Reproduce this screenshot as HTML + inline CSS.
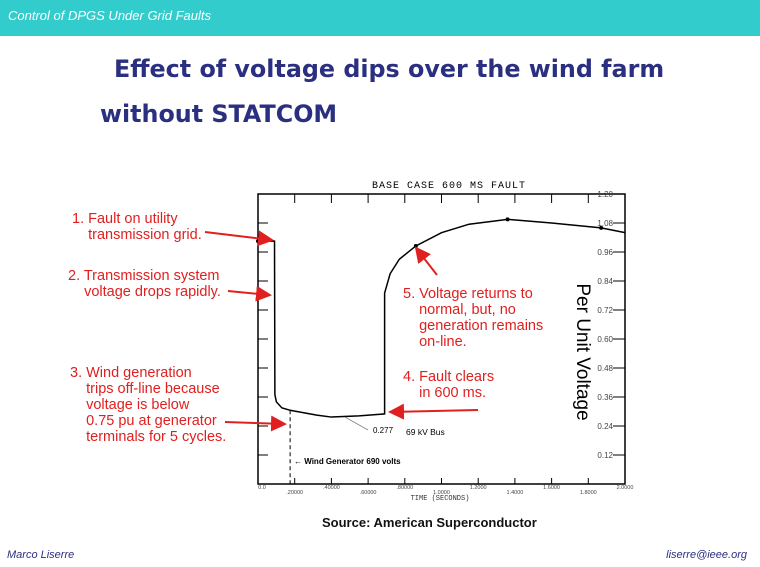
<!DOCTYPE html>
<html><head><meta charset="utf-8"><style>
body{margin:0;width:760px;height:567px;background:#fff;overflow:hidden;position:relative;font-family:"Liberation Sans",sans-serif}
.hdr{position:absolute;left:0;top:0;width:760px;height:36px;background:#33cccc}
.hdr span{position:absolute;left:8px;top:8px;color:#fff;font-style:italic;font-size:13px}
.t{position:absolute;color:#2b2f80;font-family:"DejaVu Sans",sans-serif;font-weight:bold;font-size:23.8px;white-space:nowrap}
.red{position:absolute;color:#e02020;font-size:14.5px;line-height:16px;white-space:nowrap}
</style></head><body>
<div class="hdr"><span>Control of DPGS Under Grid Faults</span></div>
<div class="t" style="left:114px;top:55px">Effect of voltage dips over the wind farm</div>
<div class="t" style="left:100px;top:100px">without STATCOM</div>
<svg id="ch" width="760" height="567" style="position:absolute;left:0;top:0"></svg>
<div class="red" style="left:72px;top:211px">1. Fault on utility<br>&nbsp;&nbsp;&nbsp;&nbsp;transmission grid.</div>
<div class="red" style="left:68px;top:268px">2. Transmission system<br>&nbsp;&nbsp;&nbsp;&nbsp;voltage drops rapidly.</div>
<div class="red" style="left:70px;top:365px">3. Wind generation<br>&nbsp;&nbsp;&nbsp;&nbsp;trips off-line because<br>&nbsp;&nbsp;&nbsp;&nbsp;voltage is below<br>&nbsp;&nbsp;&nbsp;&nbsp;0.75 pu at generator<br>&nbsp;&nbsp;&nbsp;&nbsp;terminals for 5 cycles.</div>
<div class="red" style="left:403px;top:286px">5. Voltage returns to<br>&nbsp;&nbsp;&nbsp;&nbsp;normal, but, no<br>&nbsp;&nbsp;&nbsp;&nbsp;generation remains<br>&nbsp;&nbsp;&nbsp;&nbsp;on-line.</div>
<div class="red" style="left:403px;top:369px">4. Fault clears<br>&nbsp;&nbsp;&nbsp;&nbsp;in 600 ms.</div>
<div style="position:absolute;left:322px;top:515px;font-size:13px;font-weight:bold;color:#111">Source: American Superconductor</div>
<div style="position:absolute;left:7px;top:549px;font-size:11px;font-style:italic;color:#2b2f80">Marco Liserre</div>
<div style="position:absolute;right:13px;top:549px;font-size:11px;font-style:italic;color:#2b2f80">liserre@ieee.org</div>
<script>
const times=[0,0.09,0.092,0.1,0.13,0.175,0.32,0.4,0.55,0.69,0.69,0.72,0.77,0.86,1.0,1.15,1.36,1.6,1.87,2.0];
const volts=[1.005,1.005,0.37,0.34,0.315,0.305,0.285,0.277,0.282,0.29,0.79,0.87,0.93,0.985,1.04,1.075,1.095,1.08,1.06,1.04];
const yTicks=[0.12,0.24,0.36,0.48,0.60,0.72,0.84,0.96,1.08,1.20];
const xTicks=[0,0.2,0.4,0.6,0.8,1.0,1.2,1.4,1.6,1.8,2.0];
const xLabels=["0.0",".20000",".40000",".60000",".80000","1.0000","1.2000","1.4000","1.6000","1.8000","2.0000"];
const L=258,R=625,T=194,B=484;
const X=t=>L+(R-L)*t/2, Y=v=>B-(B-T)*v/1.2;
const s=document.getElementById('ch'),NS='http://www.w3.org/2000/svg';
function el(tag,a,txt){const e=document.createElementNS(NS,tag);for(const k in a)e.setAttribute(k,a[k]);if(txt)e.textContent=txt;s.appendChild(e);return e;}
let f=el('rect',{x:L,y:T,width:R-L,height:B-T,fill:'none',stroke:'#000','stroke-width':1.5});


let ti=el('text',{x:449,y:188,'font-size':10,'text-anchor':'middle','font-family':'Liberation Mono,monospace','letter-spacing':1},'BASE CASE 600 MS FAULT');


yTicks.forEach(v=>{
 el('line',{x1:R-12,x2:R,y1:Y(v),y2:Y(v),stroke:'#000'});
 el('line',{x1:L,x2:L+10,y1:Y(v),y2:Y(v),stroke:'#000'});
 const tx=el('text',{x:R-12,y:Y(v)+3,'font-size':8,'text-anchor':'end',fill:'#444'},v.toFixed(2));
 
 
});
xTicks.forEach((t,i)=>{
 el('line',{x1:X(t),x2:X(t),y1:T,y2:T+9,stroke:'#000'});
 el('line',{x1:X(t),x2:X(t),y1:B-6,y2:B,stroke:'#000'});
 const tx=el('text',{x:X(t)+(i==0?4:0),y:B+(i%2?10:5),'font-size':5.5,'text-anchor':'middle',fill:'#444'},xLabels[i]);
 
 
});
let xa=el('text',{x:440,y:500,'font-size':7,'text-anchor':'middle','font-family':'Liberation Mono,monospace',fill:'#333'},'TIME  (SECONDS)');


let ya=el('text',{x:0,y:0,'font-size':19,'text-anchor':'middle',transform:'translate(577,352) rotate(90)'},'Per Unit Voltage');


let p=el('polyline',{points:times.map((t,i)=>X(t)+','+Y(volts[i])).join(' '),fill:'none',stroke:'#000','stroke-width':1.5});


[0,0.86,1.36,1.87].forEach(t=>{const i=times.indexOf(t);const c=el('circle',{cx:X(t),cy:Y(volts[i]),r:2,fill:'#000'});
 
 });
let d=el('line',{x1:X(0.175),x2:X(0.175),y1:Y(0.305),y2:B,stroke:'#000','stroke-dasharray':'4,3'});


el('line',{x1:345,y1:417,x2:368,y2:430,stroke:'#555','stroke-width':0.7});
let a1=el('text',{x:373,y:433,'font-size':8},'0.277');


let a2=el('text',{x:406,y:435,'font-size':8.5},'69 kV Bus');


let a3=el('text',{x:294,y:464,'font-size':8,'font-weight':'bold'},'\u2190 Wind Generator 690 volts');


el('defs',{}).innerHTML='<marker id="ah" markerWidth="8" markerHeight="8" refX="7" refY="4" orient="auto"><path d="M0,0L8,4L0,8z" fill="#e02020"/></marker>';
[[205,232,272,240],[228,291,270,295],[225,422,285,424],[437,275,416,248],[478,410,390,412]].forEach(a=>{
 const l=el('line',{x1:a[0],y1:a[1],x2:a[2],y2:a[3],stroke:'#e02020','stroke-width':2,'marker-end':'url(#ah)'});
 
 
});
</script>
</body></html>
